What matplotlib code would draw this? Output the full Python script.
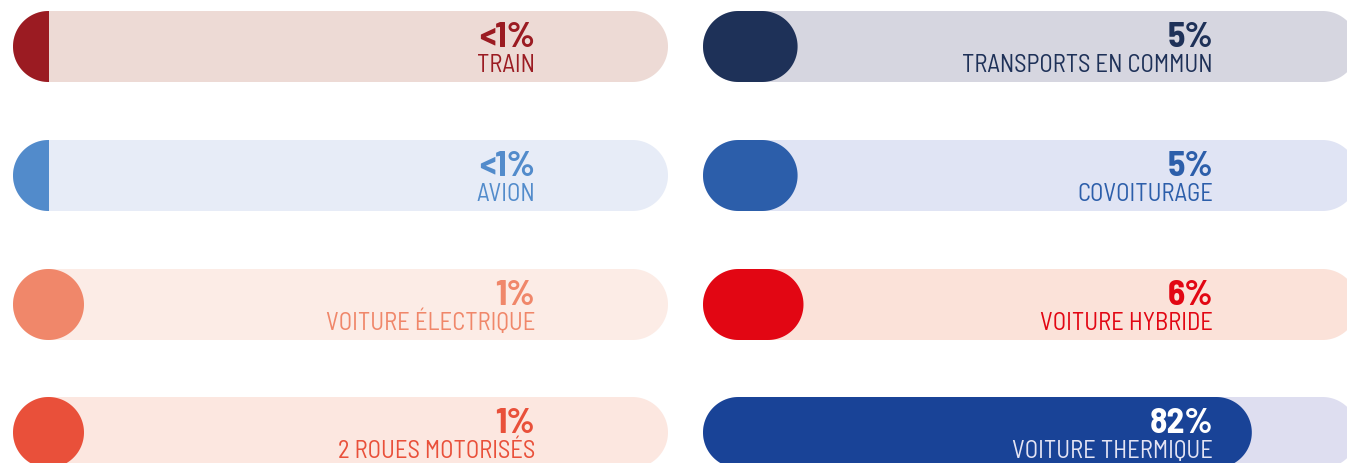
import matplotlib
matplotlib.use("Agg")
import matplotlib.pyplot as plt
import numpy as np
from matplotlib.patches import Polygon, Rectangle

# mode de transport : parts (en %)
left_labels = ["TRAIN", "AVION", "VOITURE ÉLECTRIQUE", "2 ROUES MOTORISÉS"]
left_values = [0.5, 0.5, 1, 1]          # <1% drawn as 0.5
right_labels = ["TRANSPORTS EN COMMUN", "COVOITURAGE", "VOITURE HYBRIDE", "VOITURE THERMIQUE"]
right_values = [5, 5, 6, 82]

left_fill = ["#9B1B22", "#528BCB", "#F0876A", "#E9503A"]
left_track = ["#EDDAD5", "#E7ECF7", "#FCECE6", "#FCE7E0"]
right_fill = ["#1E3158", "#2C5EAA", "#E20613", "#194397"]
right_track = ["#D6D6E0", "#E0E4F4", "#FBE2D9", "#DEDEF0"]

FONT = ["Barlow Semi Condensed", "Roboto Condensed", "DejaVu Sans"]
H = 71          # bar height (px)
W = 655         # track length (px)
ROW_TOPS = [12, 141, 270, 398]


def pill(x, y, w, color):
    r = H / 2
    t = np.linspace(-np.pi / 2, np.pi / 2, 60)
    right = np.column_stack([x + w - r + r * np.cos(t), y + r + r * np.sin(t)])
    left = np.column_stack([x + r - r * np.cos(t), y + r - r * np.sin(t)])
    return Polygon(np.vstack([right, left]), closed=True, fc=color, ec="none")


def pct_text(v):
    return "<1%" if v < 1 else f"{v:g}%"


def draw_column(ax, x0, text_x, labels, values, fills, tracks, light_text=None):
    for i, (lab, v) in enumerate(zip(labels, values)):
        y = ROW_TOPS[i]
        track = pill(x0, y, W, tracks[i])
        ax.add_patch(track)
        if v < 1:
            rect = Rectangle((x0, y), v * H, H, fc=fills[i], ec="none")
            ax.add_patch(rect)
            rect.set_clip_path(track)
        else:
            length = H + (v - 1) * (W - H) / 99
            ax.add_patch(pill(x0, y, length, fills[i]))
        c_pct = fills[i]
        c_lab = fills[i]
        if light_text is not None and i == light_text:
            c_pct, c_lab = "white", "#E4E4F4"
        ax.text(text_x, y + 35, pct_text(v), ha="right", va="baseline",
                fontsize=25.5, fontweight="bold", color=c_pct, family=FONT)
        ax.text(text_x, y + 60, lab, ha="right", va="baseline",
                fontsize=17.8, color=c_lab, family=FONT)


fig = plt.figure(figsize=(13.47, 4.64), dpi=100)
ax = fig.add_axes([0, 0, 1, 1])
ax.set_xlim(0, 1347)
ax.set_ylim(464, 0)
ax.axis("off")

draw_column(ax, 13, 535, left_labels, left_values, left_fill, left_track)
draw_column(ax, 703, 1213, right_labels, right_values, right_fill, right_track, light_text=3)

fig.savefig("out.png", dpi=100, facecolor="white")
